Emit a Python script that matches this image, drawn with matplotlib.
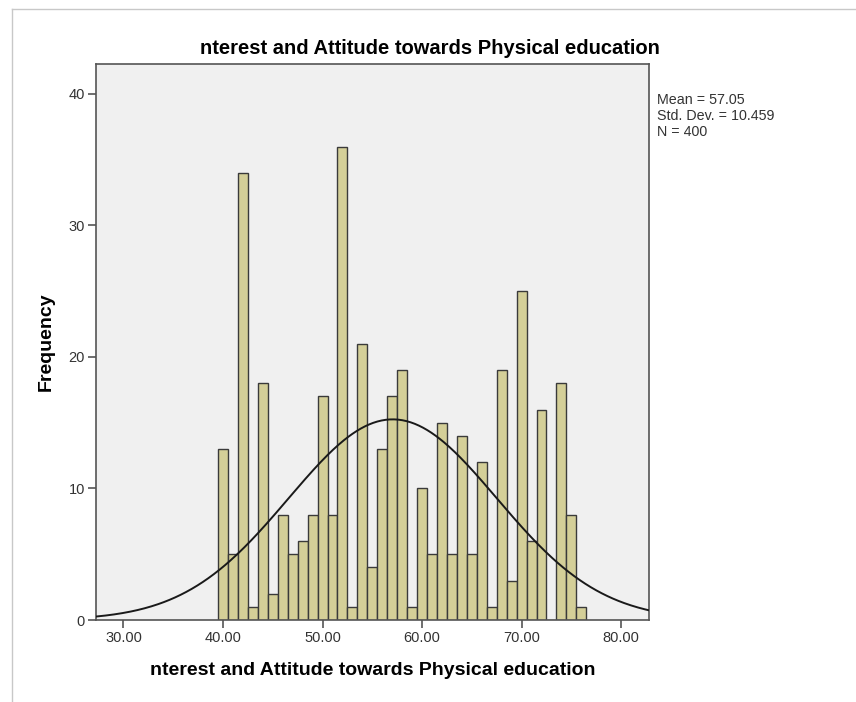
import numpy as np
import matplotlib.pyplot as plt

# score values (integer bins) and their counts
scores = np.arange(40, 77)
freq = [13, 5, 34, 1, 18, 2, 8, 5, 6, 8, 17, 8, 36, 1, 21, 4, 13, 17, 19, 1,
        10, 5, 15, 5, 14, 5, 12, 1, 19, 3, 25, 6, 16, 0, 18, 8, 1]
mean_val = 57.05
sd_val = 10.459
n_val = 400
x_ticks = [30, 40, 50, 60, 70, 80]
y_ticks = [0, 10, 20, 30, 40]
var_name = 'nterest and Attitude towards Physical education'

W, H = 856, 702
plt.rcParams['font.family'] = ['Liberation Sans', 'DejaVu Sans']
fig = plt.figure(figsize=(W / 100, H / 100), dpi=100, facecolor='w')

# light outer frame of the output window
fig.add_artist(plt.Line2D([12 / W, 12 / W], [0, 1 - 9 / H], color='#c8c8c8', lw=1))
fig.add_artist(plt.Line2D([12 / W, 1], [1 - 9 / H, 1 - 9 / H], color='#c8c8c8', lw=1))

ax = fig.add_axes([96 / W, 1 - 620 / H, (649 - 96) / W, (620 - 64) / H])
ax.set_facecolor('#f0f0f0')
ax.bar(scores, freq, width=1.0, color='#d4cf98', edgecolor='#3a3a3a', linewidth=1.0, zorder=2)

# normal curve scaled to counts (bin width 1)
xs = np.linspace(27.24, 82.8, 400)
ys = n_val * np.exp(-0.5 * ((xs - mean_val) / sd_val) ** 2) / (sd_val * np.sqrt(2 * np.pi))
ax.plot(xs, ys, color='#1a1a1a', lw=1.4, zorder=3)

ax.set_xlim(27.24, 82.8)
ax.set_ylim(0, 42.28)
ax.set_xticks(x_ticks)
ax.set_xticklabels(['%.2f' % v for v in x_ticks])
ax.set_yticks(y_ticks)
ax.tick_params(length=6, width=1.2, color='#555555', labelcolor='#333333', labelsize=10.5, pad=2)
for s in ax.spines.values():
    s.set_color('#555555')
    s.set_linewidth(1.2)

ax.set_xlabel(var_name, fontsize=14, fontweight='bold', labelpad=12)
ax.set_ylabel('Frequency', fontsize=14, fontweight='bold', labelpad=10)
fig.text(430 / W, 1 - 48 / H, var_name, fontsize=14.5, fontweight='bold', ha='center', va='center')

stats = 'Mean = %.2f\nStd. Dev. = %.3f\nN = %d' % (mean_val, sd_val, n_val)
fig.text(657 / W, 1 - 93 / H, stats, fontsize=10.3, color='#333333', ha='left', va='top',
         linespacing=1.2)

fig.savefig('out.png', dpi=100)
